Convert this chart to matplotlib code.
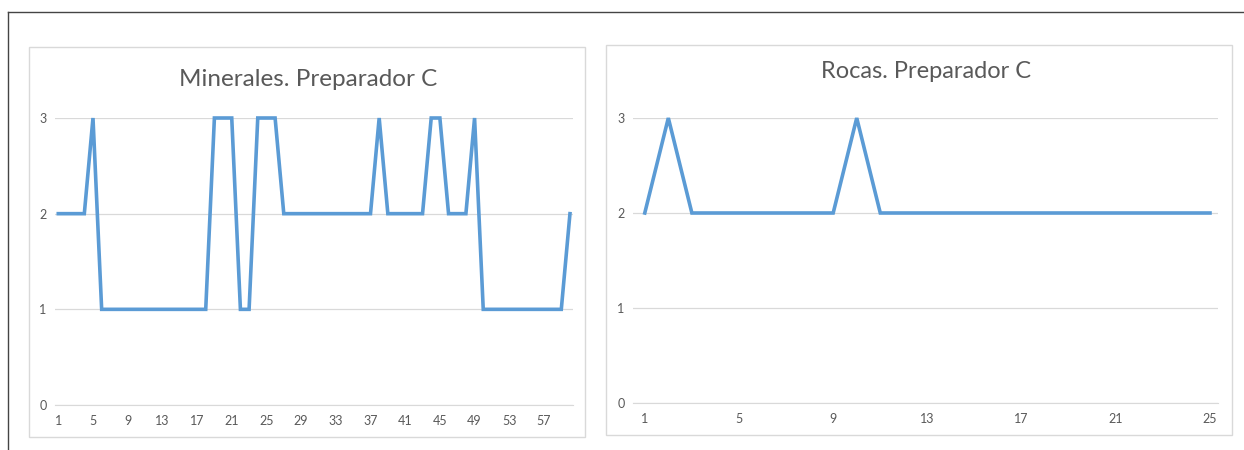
import matplotlib.pyplot as plt
from matplotlib.patches import Rectangle
from matplotlib.lines import Line2D

# Minerales: 60 muestras
min_x = list(range(1, 61))
min_vals = [2, 2, 2, 2, 3,
            1, 1, 1, 1, 1, 1, 1, 1, 1, 1, 1, 1, 1,
            3, 3, 3, 1, 1, 3, 3, 3,
            2, 2, 2, 2, 2, 2, 2, 2, 2, 2, 2,
            3, 2, 2, 2, 2, 2, 3, 3, 2, 2, 2, 3,
            1, 1, 1, 1, 1, 1, 1, 1, 1, 1, 2]
min_ticks = list(range(1, 61, 4))

# Rocas: 25 muestras
roc_x = list(range(1, 26))
roc_vals = [2, 3, 2, 2, 2, 2, 2, 2, 2, 3,
            2, 2, 2, 2, 2, 2, 2, 2, 2, 2, 2, 2, 2, 2, 2]
roc_ticks = list(range(1, 26, 4))

W, H = 1244, 450
blue = '#5B9BD5'
grid_c = '#D9D9D9'
txt_c = '#595959'

plt.rcParams['font.family'] = ['Lato', 'DejaVu Sans']

fig = plt.figure(figsize=(W / 100, H / 100), dpi=100)
fig.patch.set_facecolor('white')


def box(x0, y0, x1, y1):
    # pixel coords, y from top
    return [x0 / W, 1 - y1 / H, (x1 - x0) / W, (y1 - y0) / H]


# outer frame (top and left only)
fig.add_artist(Line2D([8 / W, 1], [1 - 12 / H, 1 - 12 / H], color='#444444', lw=1))
fig.add_artist(Line2D([8 / W, 8 / W], [0, 1 - 12 / H], color='#444444', lw=1))

# chart panels
for p in [(29, 47, 585, 437), (606, 45, 1232, 435)]:
    b = box(*p)
    fig.add_artist(Rectangle((b[0], b[1]), b[2], b[3], transform=fig.transFigure,
                             fill=False, edgecolor=grid_c, lw=1))


def draw(ax, x, y, ticks, xlim):
    ax.plot(x, y, color=blue, lw=2.6, clip_on=False, solid_joinstyle='miter')
    ax.set_xlim(xlim)
    ax.set_ylim(0, 3)
    ax.set_yticks([0, 1, 2, 3])
    ax.set_xticks(ticks)
    ax.grid(axis='y', color=grid_c, lw=0.9)
    ax.set_axisbelow(True)
    for s in ['top', 'right', 'left']:
        ax.spines[s].set_visible(False)
    ax.spines['bottom'].set_color(grid_c)
    ax.tick_params(length=0, labelsize=9, labelcolor=txt_c)
    ax.tick_params(axis='x', pad=7)
    ax.tick_params(axis='y', pad=6)


ax1 = fig.add_axes(box(55, 118, 573, 405))
draw(ax1, min_x, min_vals, min_ticks, (0.62, 60.35))

ax2 = fig.add_axes(box(633, 118, 1218, 403))
draw(ax2, roc_x, roc_vals, roc_ticks, (0.5, 25.34))

fig.text(308 / W, 1 - 80 / H, 'Minerales. Preparador C', ha='center', va='center',
         fontsize=17.5, color=txt_c)
fig.text(926 / W, 1 - 72 / H, 'Rocas. Preparador C', ha='center', va='center',
         fontsize=17, color=txt_c)

fig.savefig('out.png', dpi=100)
